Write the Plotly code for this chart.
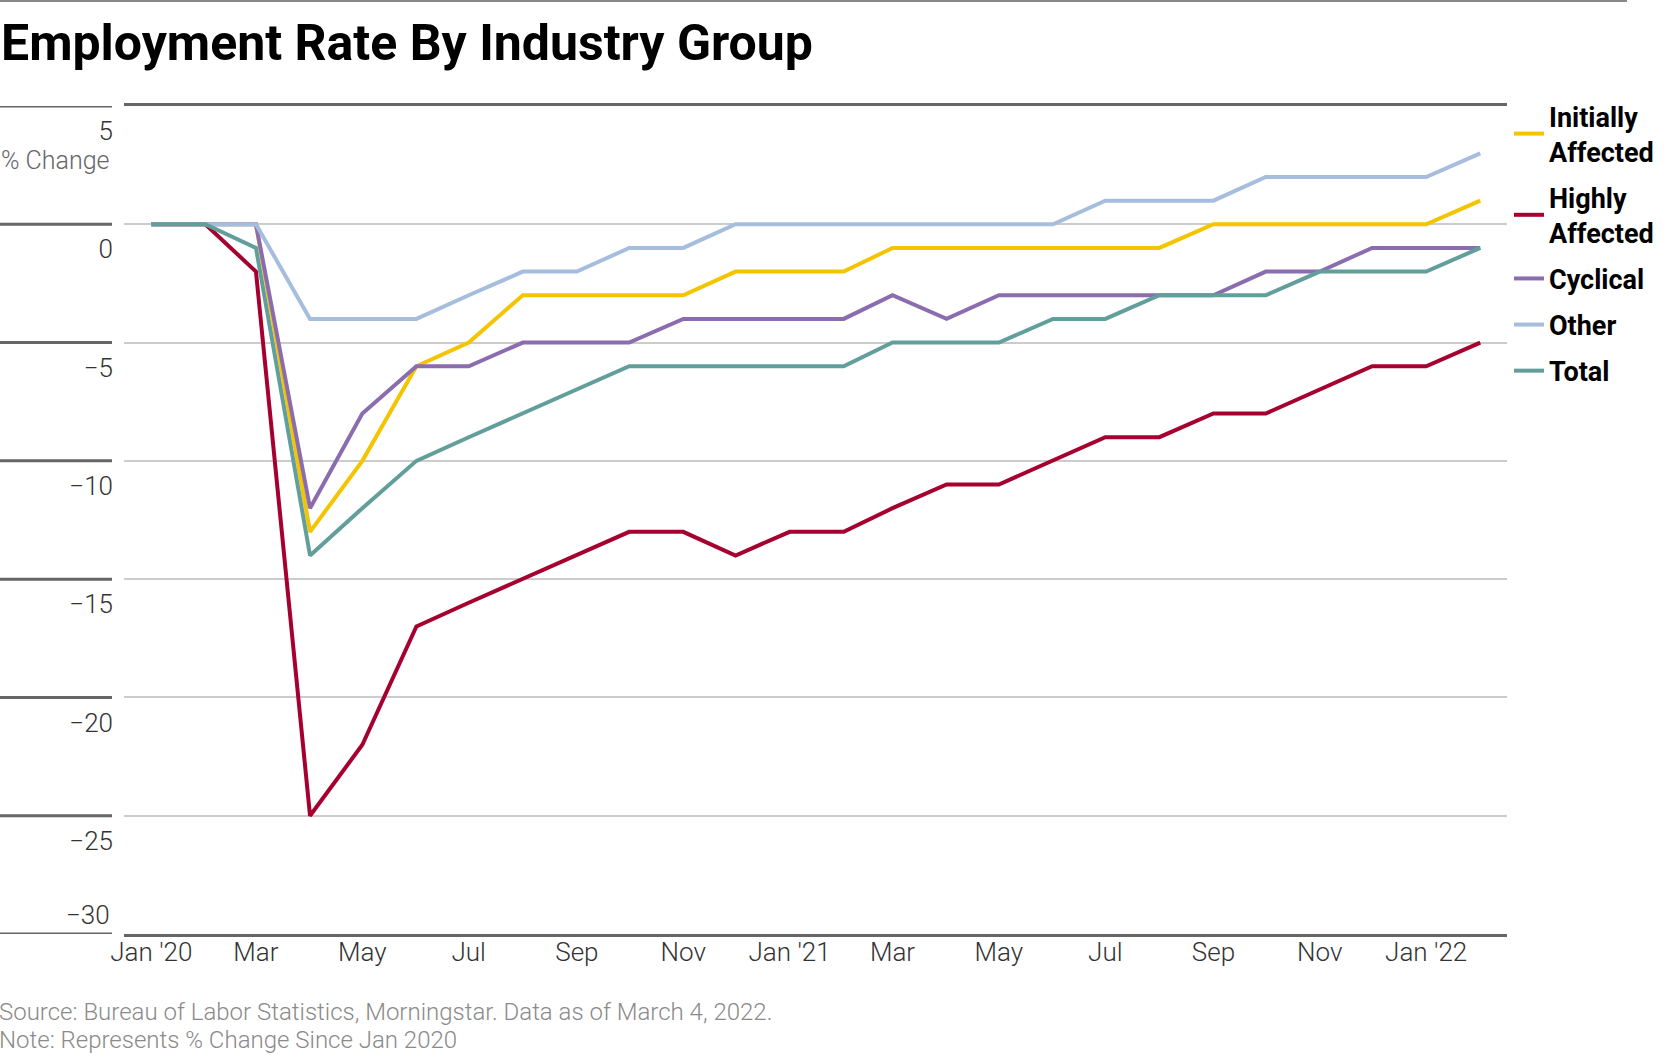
import plotly.graph_objects as go

months = ["2020-01-01", "2020-02-01", "2020-03-01", "2020-04-01", "2020-05-01", "2020-06-01",
          "2020-07-01", "2020-08-01", "2020-09-01", "2020-10-01", "2020-11-01", "2020-12-01",
          "2021-01-01", "2021-02-01", "2021-03-01", "2021-04-01", "2021-05-01", "2021-06-01",
          "2021-07-01", "2021-08-01", "2021-09-01", "2021-10-01", "2021-11-01", "2021-12-01",
          "2022-01-01", "2022-02-01"]

initially_affected = [0, 0, 0, -13, -10, -6, -5, -3, -3, -3, -3, -2, -2, -2, -1, -1, -1, -1, -1, -1, 0, 0, 0, 0, 0, 1]
highly_affected = [0, 0, -2, -25, -22, -17, -16, -15, -14, -13, -13, -14, -13, -13, -12, -11, -11, -10, -9, -9, -8, -8, -7, -6, -6, -5]
cyclical = [0, 0, 0, -12, -8, -6, -6, -5, -5, -5, -4, -4, -4, -4, -3, -4, -3, -3, -3, -3, -3, -2, -2, -1, -1, -1]
other = [0, 0, 0, -4, -4, -4, -3, -2, -2, -1, -1, 0, 0, 0, 0, 0, 0, 0, 1, 1, 1, 2, 2, 2, 2, 3]
total = [0, 0, -1, -14, -12, -10, -9, -8, -7, -6, -6, -6, -6, -6, -5, -5, -5, -4, -4, -3, -3, -3, -2, -2, -2, -1]

series_names = ["Initially<br>Affected", "Highly<br>Affected", "Cyclical", "Other", "Total"]
series_values = [initially_affected, highly_affected, cyclical, other, total]
series_colors = ["#F5C400", "#A5002F", "#8B6DAF", "#A6BDDE", "#629E9B"]

x_tick_vals = ["2020-01-01", "2020-03-01", "2020-05-01", "2020-07-01", "2020-09-01", "2020-11-01",
               "2021-01-01", "2021-03-01", "2021-05-01", "2021-07-01", "2021-09-01", "2021-11-01",
               "2022-01-01"]
x_tick_text = ["Jan '20", "Mar", "May", "Jul", "Sep", "Nov", "Jan '21", "Mar", "May", "Jul", "Sep", "Nov", "Jan '22"]
y_tick_vals = [5, 0, -5, -10, -15, -20, -25, -30]

W, H = 1672, 1055
L, R, T, B = 124, 165, 106, 121
PW = W - L - R
PH = H - T - B

FONT = "Roboto, Liberation Sans, sans-serif"


def py(pix):
    """paper y coordinate for a pixel row measured from the top of the figure"""
    return 1 - (pix - T) / PH


fig = go.Figure()
for name, vals, col in zip(series_names, series_values, series_colors):
    fig.add_trace(go.Scatter(x=months, y=vals, name=name, mode="lines",
                             line=dict(color=col, width=4), legendgroup=name))

shapes = []
for v in y_tick_vals:
    shapes.append(dict(type="line", xref="paper", yref="y", x0=-L / PW, x1=-12 / PW, y0=v, y1=v,
                       line=dict(color="#666666", width=3)))
shapes.append(dict(type="line", xref="paper", yref="paper", x0=-L / PW, x1=(1627 - L) / PW,
                   y0=py(1), y1=py(1), line=dict(color="#888888", width=2)))

annotations = [
    dict(text="<b>Employment Rate By Industry Group</b>", xref="paper", yref="paper",
         x=-L / PW, y=py(43), xanchor="left", yanchor="middle", xshift=-1,
         showarrow=False, font=dict(family=FONT, size=50, color="#000000")),
    dict(text="% Change", xref="paper", yref="y", x=-12 / PW, y=2.7, xanchor="right", yanchor="middle",
         showarrow=False, font=dict(family=FONT, size=25, color="#666666", weight=300)),
    dict(text="−30", xref="paper", yref="y", x=-12 / PW, y=-29.2, xanchor="right", yanchor="middle",
         showarrow=False, font=dict(family=FONT, size=26, color="#333333", weight=300)),
    dict(text="Source: Bureau of Labor Statistics, Morningstar. Data as of March 4, 2022.",
         xref="paper", yref="paper", x=-L / PW, y=py(1012), xanchor="left", yanchor="middle",
         xshift=-3, showarrow=False, font=dict(family=FONT, size=24, color="#8a8a8a", weight=300)),
    dict(text="Note: Represents % Change Since Jan 2020",
         xref="paper", yref="paper", x=-L / PW, y=py(1040), xanchor="left", yanchor="middle",
         xshift=-3, showarrow=False, font=dict(family=FONT, size=24, color="#8a8a8a", weight=300)),
]

fig.update_layout(
    width=W, height=H,
    margin=dict(l=L, r=R, t=T, b=B, autoexpand=False),
    paper_bgcolor="white", plot_bgcolor="white",
    showlegend=True,
    legend=dict(x=(1509 - L) / PW, xanchor="left", y=py(92), yanchor="top",
                font=dict(family=FONT, size=27, color="#000000", weight="bold"),
                tracegroupgap=8, bgcolor="rgba(0,0,0,0)"),
    xaxis=dict(type="date", range=["2019-12-16 08:00", "2022-02-16 08:00"],
               tickvals=x_tick_vals, ticktext=x_tick_text, showgrid=False, zeroline=False,
               showline=True, mirror=True, linecolor="#666666", linewidth=3, ticks="",
               tickfont=dict(family=FONT, size=26, color="#333333", weight=300)),
    yaxis=dict(range=[-30, 5], tickvals=y_tick_vals[:-1], showgrid=True, gridcolor="#cccccc", gridwidth=1.5,
               zeroline=False, showline=False, ticks="", ticklabelshift=25, ticklabelstandoff=10,
               tickfont=dict(family=FONT, size=26, color="#333333", weight=300)),
    shapes=shapes, annotations=annotations,
)

try:
    fig.update_xaxes(ticklabelstandoff=-7)
except Exception:
    pass

fig.write_html("out.html", config={"displayModeBar": False},
               post_script="document.body.style.margin='0px';")
